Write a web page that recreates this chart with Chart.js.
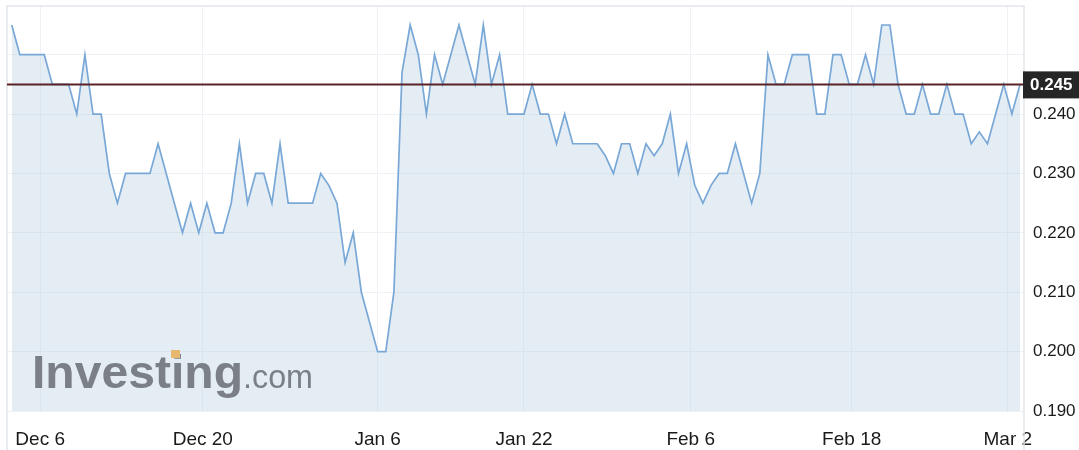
<!DOCTYPE html>
<html>
<head>
<meta charset="utf-8">
<style>
  html, body { margin: 0; padding: 0; background: #fff; }
  #wrap { width: 1079px; height: 450px; position: relative; }
</style>
<script src="https://cdn.jsdelivr.net/npm/chart.js@4.4.1/dist/chart.umd.min.js"></script>
</head>
<body>
<div id="wrap"><canvas id="price-chart"></canvas></div>
<script>
// price per sample (125 samples)
var prices = [
    0.255, 0.250, 0.250, 0.250, 0.250, 0.245, 0.245, 0.245, 0.240, 0.250,
    0.240, 0.240, 0.230, 0.225, 0.230, 0.230, 0.230, 0.230, 0.235, 0.230,
    0.225, 0.220, 0.225, 0.220, 0.225, 0.220, 0.220, 0.225, 0.235, 0.225,
    0.230, 0.230, 0.225, 0.235, 0.225, 0.225, 0.225, 0.225, 0.230, 0.228,
    0.225, 0.215, 0.220, 0.210, 0.205, 0.200, 0.200, 0.210, 0.247, 0.255,
    0.250, 0.240, 0.250, 0.245, 0.250, 0.255, 0.250, 0.245, 0.255, 0.245,
    0.250, 0.240, 0.240, 0.240, 0.245, 0.240, 0.240, 0.235, 0.240, 0.235,
    0.235, 0.235, 0.235, 0.233, 0.230, 0.235, 0.235, 0.230, 0.235, 0.233,
    0.235, 0.240, 0.230, 0.235, 0.228, 0.225, 0.228, 0.230, 0.230, 0.235,
    0.230, 0.225, 0.230, 0.250, 0.245, 0.245, 0.250, 0.250, 0.250, 0.240,
    0.240, 0.250, 0.250, 0.245, 0.245, 0.250, 0.245, 0.255, 0.255, 0.245,
    0.240, 0.240, 0.245, 0.240, 0.240, 0.245, 0.240, 0.240, 0.235, 0.237,
    0.235, 0.240, 0.245, 0.240, 0.245
];

// date labels and where they sit (in sample units)
var dateLabels = ['Dec 6', 'Dec 20', 'Jan 6', 'Jan 22', 'Feb 6', 'Feb 18', 'Mar 2'];
var datePositions = [3.5, 23.5, 45, 63, 83.5, 103.3, 122.5];

var yTicks = [0.19, 0.20, 0.21, 0.22, 0.23, 0.24, 0.25];
var yTickLabels = ['0.190', '0.200', '0.210', '0.220', '0.230', '0.240', ''];

var lastPrice = 0.245;
var lastPriceLabel = '0.245';

var FONT = '"Liberation Sans", Arial, Helvetica, sans-serif';

// frame, last price line + tag, watermark
var decorPlugin = {
    id: 'decor',
    beforeDatasetsDraw: function (chart) {
        var ctx = chart.ctx, a = chart.chartArea;
        ctx.save();
        ctx.strokeStyle = '#e2e6eb';
        ctx.lineWidth = 1.5;
        ctx.beginPath();
        ctx.moveTo(a.left, chart.height);
        ctx.lineTo(a.left, a.top);
        ctx.lineTo(a.right, a.top);
        ctx.lineTo(a.right, chart.height);
        ctx.stroke();
        ctx.restore();
    },
    afterDatasetsDraw: function (chart) {
        var ctx = chart.ctx, a = chart.chartArea;
        var y = chart.scales.y.getPixelForValue(lastPrice);

        // watermark
        ctx.save();
        ctx.fillStyle = '#7b8087';
        ctx.textBaseline = 'alphabetic';
        ctx.font = 'bold 47px ' + FONT;
        var w1 = ctx.measureText('Investing').width;
        ctx.save();
        ctx.translate(32, 388);
        ctx.scale(211 / w1, 1);
        ctx.fillText('Investing', 0, 0);
        ctx.restore();
        ctx.font = '34px ' + FONT;
        var w2 = ctx.measureText('.com').width;
        ctx.save();
        ctx.translate(243, 388);
        ctx.scale(70 / w2, 1);
        ctx.fillText('.com', 0, 0);
        ctx.restore();
        ctx.fillStyle = '#e8b871';
        ctx.fillRect(171, 350, 9, 8);
        ctx.restore();

        // last price line
        ctx.save();
        ctx.strokeStyle = '#5a2226';
        ctx.lineWidth = 2;
        ctx.beginPath();
        ctx.moveTo(a.left, y);
        ctx.lineTo(a.right, y);
        ctx.stroke();

        // tag on the axis
        ctx.fillStyle = '#262626';
        ctx.fillRect(a.right - 1, y - 13, chart.width - a.right + 1, 27);
        ctx.fillStyle = '#ffffff';
        ctx.font = 'bold 17px ' + FONT;
        ctx.textBaseline = 'middle';
        ctx.textAlign = 'left';
        ctx.fillText(lastPriceLabel, a.right + 6, y + 1);
        ctx.restore();
    }
};

function noPad(scale) {
    scale.paddingTop = 0;
    scale.paddingBottom = 0;
    scale.paddingLeft = 0;
    scale.paddingRight = 0;
}

var ctx = document.getElementById('price-chart').getContext('2d');
var chart = new Chart(ctx, {
    type: 'line',
    data: {
        datasets: [{
            data: prices.map(function (v, i) { return { x: i, y: v }; }),
            borderColor: '#79a8d7',
            borderWidth: 1.7,
            backgroundColor: 'rgba(180, 204, 224, 0.36)',
            fill: 'start',
            pointRadius: 0,
            tension: 0
        }]
    },
    options: {
        responsive: true, maintainAspectRatio: false,
        animation: false,
        layout: { padding: { left: 7, top: 6, right: 0, bottom: 0 } },
        plugins: {
            legend: { display: false },
            tooltip: { enabled: false }
        },
        scales: {
            x: {
                type: 'linear',
                min: -0.58, max: 124.49,
                afterBuildTicks: function (scale) {
                    scale.ticks = datePositions.map(function (p) { return { value: p }; });
                },
                afterFit: function (scale) { scale.height = 39; noPad(scale); },
                ticks: {
                    autoSkip: false,
                    maxRotation: 0,
                    padding: 17,
                    color: '#1a1a1a',
                    font: { family: FONT, size: 19 },
                    callback: function (value, index) { return dateLabels[index]; }
                },
                grid: { color: '#eef1f5', drawTicks: false },
                border: { display: false }
            },
            y: {
                position: 'right',
                min: 0.19, max: 0.2582,
                afterBuildTicks: function (scale) {
                    scale.ticks = yTicks.map(function (v) { return { value: v }; });
                },
                afterFit: function (scale) { scale.width = 55; noPad(scale); },
                ticks: {
                    padding: 9,
                    color: '#1a1a1a',
                    font: { family: FONT, size: 17 },
                    callback: function (value, index) { return yTickLabels[index]; }
                },
                grid: { color: '#eef1f5', drawTicks: false },
                border: { display: false }
            }
        }
    },
    plugins: [decorPlugin]
});
</script>
</body>
</html>
